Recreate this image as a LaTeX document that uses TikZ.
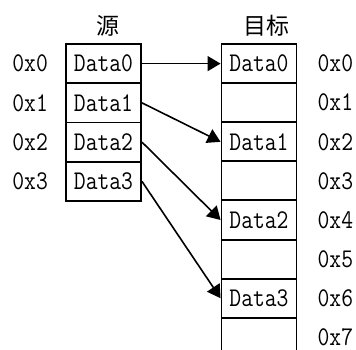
\documentclass[tikz,border=0pt]{standalone}
\usepackage{fontspec}
\usepackage{graphicx}
\newfontfamily\cjk{Noto Sans CJK SC}
\usetikzlibrary{arrows.meta,positioning}
\def\narrow#1{\scalebox{0.85}[1]{#1}}

\begin{document}
\begin{tikzpicture}[x=1pt,y=-1pt,
		cell/.style={draw, line width=1.9pt, minimum width=75pt, minimum height=39.2pt, inner sep=0pt, font=\ttfamily\fontsize{27}{27}\selectfont},
		addr/.style={inner sep=0pt, font=\ttfamily\fontsize{27}{27}\selectfont},
		title/.style={inner sep=0pt, font=\cjk\fontsize{23}{23}\selectfont},
		copyarrow/.style={line width=1.6pt, -{Triangle[length=13pt,width=15pt]}}]
			%%%%% START %%%%%
			\clip (0,0) rectangle (356,349);
			
			\node[title] (srctitle) at (108, 26) {源};
			\node[title] (dsttitle) at (266, 26) {目标};
			
			\foreach \i in {0,...,3}
				\node[cell] (s\i) at (103.5, 63.6+39.25*\i) {\narrow{Data\i}};
			
			\foreach \j/\txt in {0/Data0,1/,2/Data1,3/,4/Data2,5/,6/Data3,7/}
				\node[cell] (t\j) at (259, 63.6+39.1*\j) {\narrow{\txt}};
			
			\foreach \i in {0,...,3}
				\node[addr, left=17pt of s\i] (la\i) {\narrow{0x\i}};
			\foreach \j in {0,...,7}
				\node[addr, right=20pt of t\j] (ra\j) {\narrow{0x\j}};
			
			\foreach \i/\j in {0/0,1/2,2/4,3/6}
				\draw[copyarrow] (s\i.east) -- (t\j.west);
			%%%%% END %%%%%
		\end{tikzpicture}
\end{document}
